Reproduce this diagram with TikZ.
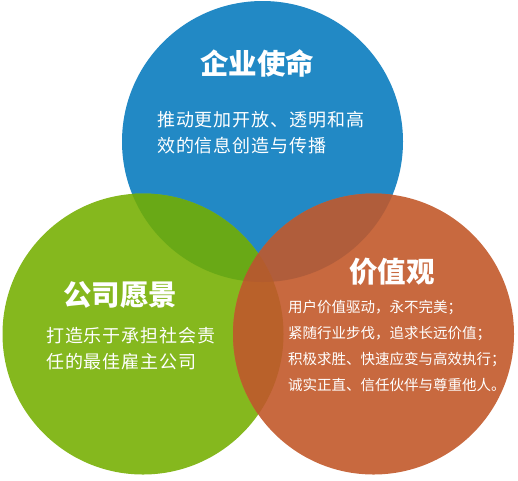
\documentclass[tikz,border=0pt]{standalone}
\usepackage{fontspec}
\newfontfamily\cjk{Noto Sans CJK SC}
\newfontfamily\cjkwide{Noto Sans CJK SC}[LetterSpace=5]

\definecolor{mblue}{HTML}{2289C5}
\definecolor{vgreen}{HTML}{85B81E}
\definecolor{corange}{HTML}{C8693F}
\definecolor{bgmix}{HTML}{69A916}
\definecolor{bomix}{HTML}{B05D3B}
\definecolor{gomix}{HTML}{B9612A}
\definecolor{allmix}{HTML}{B35C2D}

\begin{document}
\begin{tikzpicture}[x=1pt, y=-1pt,
  title/.style={text=white, inner sep=0, font=\cjk\bfseries\fontsize{28.5}{30}\selectfont},
  body/.style={text=white, inner sep=0, anchor=west, align=left}]

  % 半径
  \def \rad{140.5};

  % 背景(サイズ固定)
  \useasboundingbox (0,0) rectangle (518,480);

  % 円の中心
  \coordinate (M) at (262.5,141.5); % 企业使命
  \coordinate (V) at (143,334);     % 公司愿景
  \coordinate (C) at (373.5,334);   % 价值观

  % 円
  \fill[mblue] (M) circle (\rad);
  \fill[vgreen] (V) circle (\rad);
  \fill[corange] (C) circle (\rad);

  % 重なり
  \begin{scope}
    \clip (M) circle (\rad);
    \fill[bgmix] (V) circle (\rad);
    \fill[bomix] (C) circle (\rad);
  \end{scope}
  \begin{scope}
    \clip (V) circle (\rad);
    \fill[gomix] (C) circle (\rad);
    \clip (M) circle (\rad);
    \fill[allmix] (C) circle (\rad);
  \end{scope}

  % 企业使命
  \node[title] (missionT) at (257,63) {企业使命};
  \node[body, font=\cjkwide\fontsize{18}{26}\selectfont] (missionB) at (157,133)
    {推动更加开放、透明和高\\效的信息创造与传播};

  % 公司愿景
  \node[title] (visionT) at (120,295) {公司愿景};
  \node[body, font=\cjkwide\fontsize{18}{26}\selectfont] (visionB) at (46,349)
    {打造乐于承担社会责\\任的最佳雇主公司};

  % 价值观
  \node[title] (valueT) at (392,272) {价值观};
  \node[body, font=\cjk\fontsize{14.5}{26}\selectfont] (valueB) at (288,346)
    {用户价值驱动，永不完美；\\紧随行业步伐，追求长远价值；\\积极求胜、快速应变与高效执行；\\诚实正直、信任伙伴与尊重他人。};

\end{tikzpicture}
\end{document}
